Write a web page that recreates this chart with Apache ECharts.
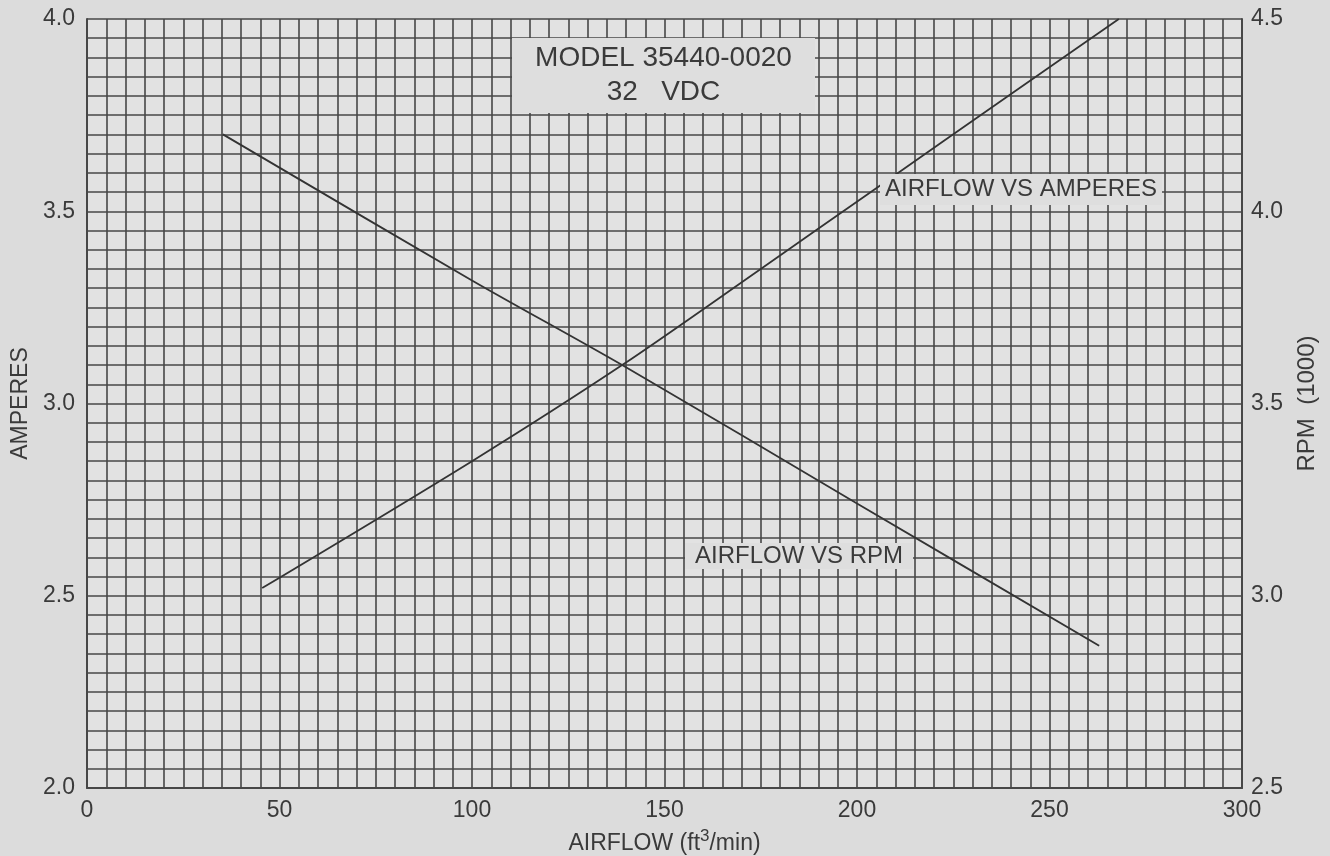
<!DOCTYPE html>
<html>
<head>
<meta charset="utf-8">
<script src="https://cdn.jsdelivr.net/npm/echarts@6/dist/echarts.min.js"></script>
<style>html,body{margin:0;padding:0;background:#dcdcdc;}#c{width:1330px;height:856px;}</style>
</head>
<body>
<div id="c"></div>
<script>
// Airflow (ft3/min) vs Amperes (left axis)
const ampAirflow = [45.5, 100, 139, 175, 205, 240, 268];
const ampValues  = [2.52, 2.85, 3.10, 3.35, 3.56, 3.805, 4.00];
// Airflow vs RPM (1000) (right axis)
const rpmAirflow = [35.3, 100, 139, 200, 262.9];
const rpmValues  = [4.20, 3.82, 3.60, 3.24, 2.87];
const xTicks = [0, 50, 100, 150, 200, 250, 300];
const leftTicks = [2.0, 2.5, 3.0, 3.5, 4.0];
const rightTicks = [2.5, 3.0, 3.5, 4.0, 4.5];
const titleLines = ['MODEL 35440-0020', '32   VDC'];
const ampLabel = 'AIRFLOW VS AMPERES';
const rpmLabel = 'AIRFLOW VS RPM';

const FONT = 'Liberation Sans';
const TXT = '#3a3a3a';
const GRIDC = '#474747';
const chart = echarts.init(document.getElementById('c'));

function boxLabel(x, y, w, h, text, size, lh) {
  return [
    {type: 'rect', shape: {x: x, y: y, width: w, height: h}, style: {fill: '#dedede'}, z: 10},
    {type: 'text', x: x + w / 2, y: y + h / 2, style: {text: text, fill: TXT, font: size + 'px "' + FONT + '"', align: 'center', verticalAlign: 'middle', lineHeight: lh}, z: 11}
  ];
}

chart.setOption({
  backgroundColor: '#dcdcdc',
  animation: false,
  grid: {left: 87, right: 88, top: 19, bottom: 68, show: true, backgroundColor: '#e2e2e2', borderWidth: 0, containLabel: false, outerBoundsMode: 'none'},
  xAxis: {
    type: 'value', min: 0, max: 300, interval: 50,
    name: '{a|AIRFLOW (ft}{s|3}{a|/min)}', nameLocation: 'middle', nameGap: 37,
    nameTextStyle: {rich: {a: {fontSize: 23, color: TXT, fontFamily: FONT, padding: [7,0,0,0]}, s: {fontSize: 17, color: TXT, fontFamily: FONT, padding: [0,0,7,0]}}},
    axisLine: {show: true, lineStyle: {color: GRIDC, width: 2}},
    axisTick: {show: false},
    axisLabel: {fontSize: 23, color: TXT, fontFamily: FONT, margin: 11, formatter: v => xTicks.includes(v) ? String(v) : ''},
    splitLine: {show: true, lineStyle: {color: GRIDC, width: 1.6}},
    minorTick: {show: false, splitNumber: 10},
    minorSplitLine: {show: true, lineStyle: {color: GRIDC, width: 1.6}}
  },
  yAxis: [
    {
      type: 'value', min: 2.0, max: 4.0, interval: 0.5, position: 'left',
      name: 'AMPERES', nameLocation: 'middle', nameGap: 52,
      nameTextStyle: {fontSize: 23, color: TXT, fontFamily: FONT},
      axisLine: {show: true, lineStyle: {color: GRIDC, width: 2}},
      axisTick: {show: false},
      axisLabel: {fontSize: 23, color: TXT, fontFamily: FONT, margin: 12, formatter: v => leftTicks.some(t => Math.abs(t - v) < 1e-6) ? v.toFixed(1) : ''},
      splitLine: {show: true, lineStyle: {color: GRIDC, width: 1.6}},
      minorTick: {show: false, splitNumber: 10},
      minorSplitLine: {show: true, lineStyle: {color: GRIDC, width: 1.6}}
    },
    {
      type: 'value', min: 2.5, max: 4.5, interval: 0.5, position: 'right',
      name: 'RPM  (1000)', nameLocation: 'middle', nameGap: 53,
      nameTextStyle: {fontSize: 24, color: TXT, fontFamily: FONT},
      axisLine: {show: true, lineStyle: {color: GRIDC, width: 2}},
      axisTick: {show: false},
      axisLabel: {fontSize: 23, color: TXT, fontFamily: FONT, margin: 9, formatter: v => rightTicks.some(t => Math.abs(t - v) < 1e-6) ? v.toFixed(1) : ''},
      splitLine: {show: false}
    }
  ],
  series: [
    {
      name: ampLabel, type: 'line', yAxisIndex: 0, showSymbol: false, smooth: 0.3, z: 5,
      lineStyle: {color: '#333', width: 1.8},
      data: ampAirflow.map((x, i) => [x, ampValues[i]])
    },
    {
      name: rpmLabel, type: 'line', yAxisIndex: 1, showSymbol: false, smooth: 0.3, z: 5,
      lineStyle: {color: '#333', width: 1.8},
      data: rpmAirflow.map((x, i) => [x, rpmValues[i]])
    }
  ],
  graphic: [].concat(
    boxLabel(512, 38, 303, 75, titleLines.join('\n'), 28, 34),
    boxLabel(880, 174, 282, 31, ampLabel, 24, 26),
    boxLabel(685, 543, 228, 26, rpmLabel, 24, 26)
  )
});
</script>
</body>
</html>
